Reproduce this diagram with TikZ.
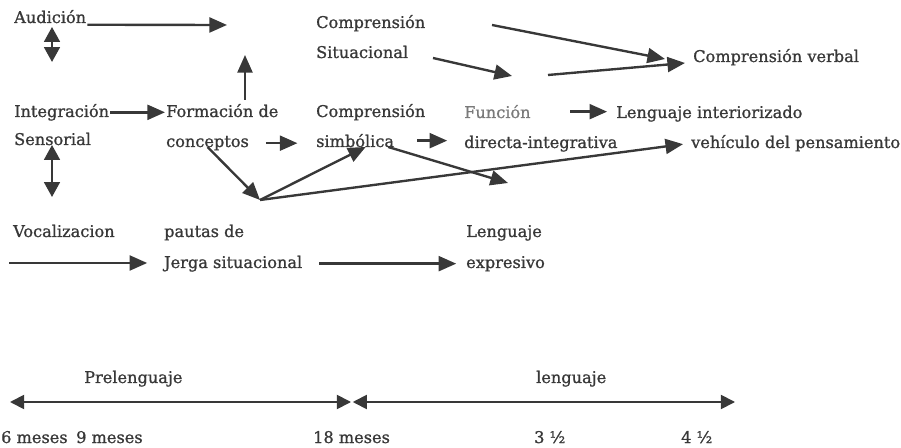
\documentclass[tikz,border=0pt]{standalone}
\usepackage{fontspec}
\setmainfont{DejaVu Serif}[FakeBold=1]
\usepackage{xcolor}
\usetikzlibrary{arrows.meta}
\definecolor{ink}{HTML}{383838}
\definecolor{faded}{HTML}{7A7A7A}

\begin{document}
\begin{tikzpicture}[x=0.02cm, y=-0.02cm, line width=1.35pt, draw=ink,
    lbl/.style={anchor=base west, inner sep=0pt, text=ink, font=\fontsize{9.2}{11}\selectfont},
    arr/.style={-{Triangle[length=10pt,width=8.5pt]}},
    dbl/.style={{Triangle[length=8.5pt,width=9pt]}-{Triangle[length=8.5pt,width=9pt]}},
    tl/.style={line width=1pt, {Triangle[length=8pt,width=8pt]}-{Triangle[length=8pt,width=8pt]}}]
    \useasboundingbox (0,0) rectangle (901,448);

    % Labels, first block
    \node[lbl] (audicion) at (13,23) {Audición};
    \node[lbl] (compsit) at (315,28) {Comprensión};
    \node[lbl] (situacional) at (315,58) {Situacional};
    \node[lbl] (verbal) at (692,62) {Comprensión verbal};
    \node[lbl] (integracion) at (13,117) {Integración};
    \node[lbl] (sensorial) at (13,145) {Sensorial};
    \node[lbl] (formacion) at (165,117) {Formación de};
    \node[lbl] (conceptos) at (165,147) {conceptos};
    \node[lbl] (compsim) at (315,117) {Comprensión};
    \node[lbl] (simbolica) at (315,147) {simbólica};
    \node[lbl, text=faded] (funcion) at (463,118) {Función};
    \node[lbl] (directa) at (463,148) {directa-integrativa};
    \node[lbl] (interiorizado) at (615,118) {Lenguaje interiorizado};
    \node[lbl] (vehiculo) at (690,148) {vehículo del pensamiento};

    % Labels, second block
    \node[lbl] (vocalizacion) at (12,237) {Vocalizacion};
    \node[lbl] (pautas) at (163,237) {pautas de};
    \node[lbl] (jerga) at (163,268) {Jerga situacional};
    \node[lbl] (lenguaje) at (465,237) {Lenguaje};
    \node[lbl] (expresivo) at (465,268) {expresivo};

    % Time line labels
    \node[lbl] (prelenguaje) at (83,383) {Prelenguaje};
    \node[lbl] (lenguajetl) at (535,383) {lenguaje};
    \node[lbl] (m6) at (0,443) {6 meses};
    \node[lbl] (m9) at (75,443) {9 meses};
    \node[lbl] (m18) at (312,443) {18 meses};
    \node[lbl] (a3) at (533,443) {3 ½};
    \node[lbl] (a4) at (680,443) {4 ½};

    % Free points
    \coordinate (aud-end) at (227,25);
    \coordinate (aud-dn) at (52,62);
    \coordinate (sen-dn) at (52,197);
    \coordinate (form-up) at (245,55);
    \coordinate (sit-start) at (433,58);
    \coordinate (sit-end) at (512,76);
    \coordinate (top-start) at (492,25);
    \coordinate (top-end) at (665,59);
    \coordinate (mid-start) at (548,75);
    \coordinate (mid-end) at (685,63);
    \coordinate (conv) at (260,200);
    \coordinate (sim-end) at (508,183);
    \coordinate (voc-in) at (9,263);
    \coordinate (tl-left) at (10,402);
    \coordinate (tl-mid) at (351,402);
    \coordinate (tl-right) at (735,402);

    % Arrows, first block
    \draw[arr] ([yshift=-1pt]audicion.base east) -- (aud-end);
    \draw[dbl] (audicion.base -| aud-dn) ++(0,4) -- (aud-dn);
    \draw[dbl] (sensorial.base -| sen-dn) -- (sen-dn);
    \draw[arr] (formacion.north -| form-up) ++(0,-3) -- (form-up);
    \draw[arr] (sit-start) -- (sit-end);
    \draw[arr] (top-start) -- (top-end);
    \draw[arr] (mid-start) -- (mid-end);
    \draw[arr] (integracion.east) -- (integracion.east -| formacion.west);
    \draw[arr, shorten <=9pt, shorten >=10pt] (conceptos.east) -- (conceptos.east -| simbolica.west);
    \draw[arr, shorten <=12.5pt, shorten >=9pt] (simbolica.east) -- (simbolica.east -| directa.west);
    \draw[arr, shorten <=22pt, shorten >=4.5pt] (funcion.east) -- (funcion.east -| interiorizado.west);
    \draw[arr] (conceptos.base) -- (conv);
    \draw[arr] (conv) -- ([xshift=6pt]simbolica.base);
    \draw[arr] ([xshift=-4pt]simbolica.base east) -- (sim-end);
    \draw[arr, shorten >=4pt] (conv) -- (vehiculo.west);

    % Arrows, second block
    \draw[arr, shorten >=9pt] (voc-in) -- (voc-in -| jerga.west);
    \draw[arr, shorten <=9pt, shorten >=5pt] (jerga.east) -- (jerga.east -| expresivo.west);

    % Time line
    \draw[tl] (tl-left) -- (tl-mid);
    \draw[tl] ([xshift=1pt]tl-mid) -- (tl-right);
\end{tikzpicture}
\end{document}
